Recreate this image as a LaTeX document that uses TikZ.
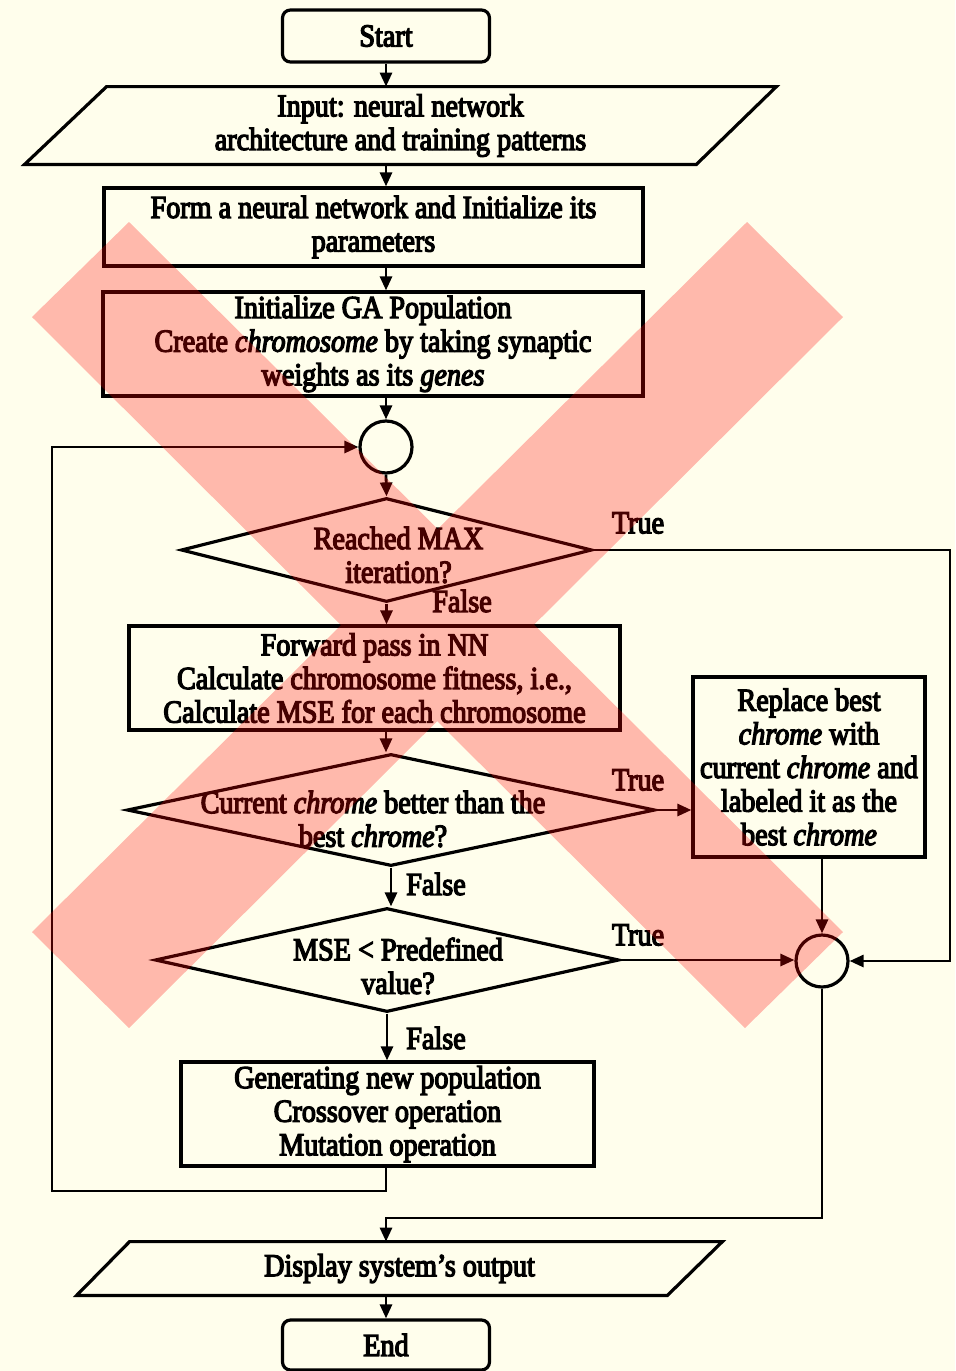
\documentclass[tikz,border=0pt]{standalone}
\usepackage{fontspec}
\setmainfont[FakeStretch=0.88,FakeBold=4]{Liberation Serif}
\usetikzlibrary{shapes.geometric,arrows.meta}
\definecolor{paper}{RGB}{255,254,236}
\tikzset{
  flowbox/.style={draw,line width=1.6pt,inner sep=0pt,align=center},
  termbox/.style={flowbox,rounded corners=4pt,minimum width=103.5pt,minimum height=26pt},
  iobox/.style={inner sep=0pt,align=center},
  ioline/.style={draw,line width=1.6pt,line join=miter},
  decision/.style={draw,line width=1.6pt,shape=diamond,inner sep=0pt},
  joint/.style={draw,line width=1.6pt,circle,minimum size=26pt,inner sep=0pt},
  arr/.style={line width=1.4pt,-{Triangle[length=7pt,width=6pt]}},
  txt/.style={align=center},
  cross/.style={fill=red,fill opacity=0.27}
}
\begin{document}
\begin{tikzpicture}[x=0.5pt,y=-0.5pt,font=\fontsize{16}{16.8}\selectfont]
\fill[paper] (0,0) rectangle (955,1371);
\useasboundingbox (0,0) rectangle (955,1371);

% main column
\node[termbox] (start) at (386,36) {Start};
\node[iobox,minimum width=375.5pt,minimum height=38.5pt] (inp) at (400.5,125.5) {Input: neural network\\architecture and training patterns};
\draw[ioline] (inp.south west) -- ([xshift=41pt]inp.north west) -- (inp.north east) -- ([xshift=-40pt]inp.south east) -- cycle;
\node[flowbox,minimum width=269.5pt,minimum height=39pt] (form) at (373.5,227) {Form a neural network and Initialize its\\parameters};
\node[flowbox,minimum width=270pt,minimum height=52pt] (init) at (373,344) {Initialize GA Population\\Create \emph{chromosome} by taking synaptic\\weights as its \emph{genes}};
\node[joint] (c1) at (386,447) {};
\node[decision,minimum width=205.5pt,minimum height=52pt,
  label={[txt,xshift=6pt,yshift=-2.5pt]center:{Reached MAX\\iteration?}}] (d1) at (386.5,550) {};
\node[flowbox,minimum width=245.5pt,minimum height=52pt] (fwd) at (374.5,678) {Forward pass in NN\\Calculate chromosome fitness, i.e.,\\Calculate MSE for each chromosome};
\node[decision,minimum width=264pt,minimum height=56pt,
  label={[txt,xshift=-9pt,yshift=-4.5pt]center:{Current \emph{chrome} better than the\\best \emph{chrome}?}}] (d2) at (391,810) {};
\node[flowbox,minimum width=116pt,minimum height=90pt] (rep) at (809,767) {Replace best\\\emph{chrome} with\\current \emph{chrome} and\\labeled it as the\\best \emph{chrome}};
\node[joint] (c2) at (822,961) {};
\node[decision,minimum width=232pt,minimum height=52pt,
  label={[txt,xshift=5.5pt,yshift=-3pt]center:{MSE < Predefined\\value?}}] (d3) at (387,960) {};
\node[flowbox,minimum width=206.5pt,minimum height=52pt] (gen) at (387.5,1114) {Generating new population\\Crossover operation\\Mutation operation};
\node[iobox,minimum width=322.5pt,minimum height=26.5pt] (disp) at (399.5,1268.5) {Display system's output};
\draw[ioline] (disp.south west) -- ([xshift=26.5pt]disp.north west) -- (disp.north east) -- ([xshift=-27.5pt]disp.south east) -- cycle;
\node[termbox,minimum height=25pt] (end) at (386,1345) {End};

% branch labels
\node (t1) at (638,523) {True};
\node (t2) at (638,780) {True};
\node (t3) at (638,935) {True};
\node (f1) at (462,601) {False};
\node (f2) at (436,884) {False};
\node (f3) at (436,1038) {False};

\coordinate (rside) at (950,550);
\coordinate (lside) at (52,1191);
\coordinate (merge) at (386,1218);

% connectors
\draw[arr] (start.south) -- (start.south |- inp.north);
\draw[arr] (inp.south -| start) -- (form.north -| start);
\draw[arr] (form.south -| start) -- (init.north -| start);
\draw[arr] (init.south -| c1) -- (c1.north);
\draw[arr] (c1.south) -- (d1.north);
\draw[arr] (d1.south) -- (d1.south |- fwd.north);
\draw[arr] (d1.east) -- (d1.east -| rside) |- (c2.east);
\draw[arr] (fwd.south -| c1) -- (d2.north -| c1);
\draw[arr] (d2.east) -- (d2.east -| rep.west);
\draw[arr] (d2.south) -- (d2.south |- d3.north);
\draw[arr] (d3.east) -- (d3.east -| c2.west);
\draw[arr] (rep.south -| c2) -- (c2.north);
\draw[arr] (d3.south) -- (d3.south |- gen.north);
\draw[arr] (gen.south -| c1) |- (lside) |- (c1.west);
\draw[arr] (c2.south) |- (merge) -- (merge |- disp.north);
\draw[arr] (disp.south -| start) -- (end.north);

% red cross
\fill[cross] (129,222) -- (32,317) -- (745,1028) -- (843,932) -- cycle
  (747,222) -- (32,932) -- (129,1028) -- (843,317) -- cycle;
\end{tikzpicture}
\end{document}
